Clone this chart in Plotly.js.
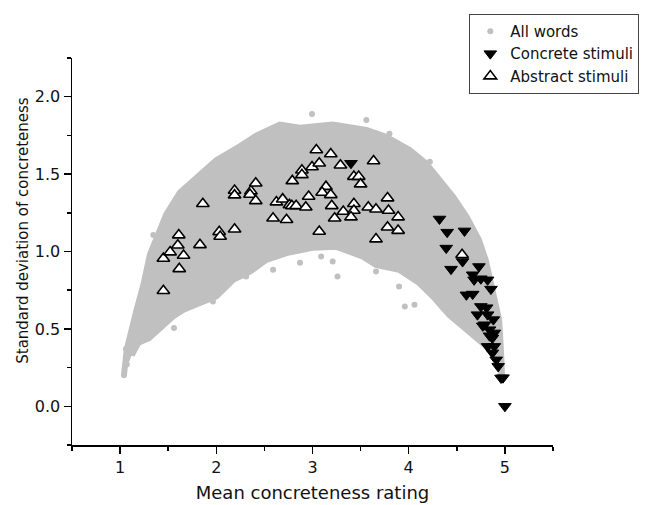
<!DOCTYPE html>
<html>
<head>
<meta charset="utf-8">
<script src="https://cdn.plot.ly/plotly-3.0.1.min.js"></script>
<style>html,body{margin:0;padding:0;background:#fff;}#chart{width:645px;height:505px;}</style>
</head>
<body>
<div id="chart"></div>
<script>
// Outline of the dense "All words" cloud (upper edge left->right, lower edge right->left)
var cloudUpperX = [1.04,1.07,1.17,1.24,1.31,1.40,1.48,1.62,1.80,2.00,2.245,2.42,2.66,2.87,3.21,3.56,3.77,4.01,4.18,4.32,4.46,4.60,4.73,4.80,4.87,4.94,4.96,4.97];
var cloudUpperY = [0.20,0.37,0.62,0.78,0.98,1.12,1.24,1.38,1.48,1.59,1.68,1.75,1.82,1.80,1.82,1.785,1.74,1.656,1.57,1.46,1.355,1.226,1.075,0.946,0.753,0.56,0.35,0.20];
var cloudLowerX = [4.91,4.73,4.56,4.42,4.25,4.11,3.90,3.66,3.52,3.25,3.00,2.73,2.52,2.35,2.175,2.00,1.83,1.66,1.55,1.41,1.30,1.19,1.12];
var cloudLowerY = [0.333,0.43,0.516,0.59,0.71,0.796,0.882,0.914,0.968,1.03,1.024,0.99,0.946,0.869,0.817,0.71,0.667,0.624,0.58,0.50,0.44,0.41,0.33];

// Isolated "All words" points outside the dense cloud
var wordsX = [1.04,1.07,1.06,1.13,1.56,1.965,1.345,2.995,3.56,3.80,4.22,3.09,3.26,3.96,4.06,2.31,2.59,2.87,3.21,3.90,3.66];
var wordsY = [0.20,0.27,0.37,0.345,0.506,0.677,1.107,1.888,1.85,1.76,1.58,0.968,0.839,0.645,0.656,0.839,0.882,0.927,0.935,0.774,0.871];

// Concrete stimuli
var concreteX = [3.40,4.32,4.40,4.58,4.39,4.56,4.44,4.73,4.665,4.68,4.75,4.82,4.855,4.60,4.665,4.75,4.81,4.715,4.82,4.88,4.79,4.84,4.89,4.87,4.82,4.89,4.87,4.91,4.93,4.96,4.98,5.00,4.77,4.84];
var concreteY = [1.57,1.21,1.125,1.133,1.022,0.935,0.886,0.903,0.85,0.817,0.824,0.817,0.757,0.72,0.725,0.645,0.637,0.592,0.592,0.56,0.527,0.495,0.474,0.441,0.387,0.387,0.345,0.30,0.258,0.183,0.185,0.0,0.52,0.456];

// Abstract stimuli
var abstractX = [1.45,1.615,1.45,1.52,1.66,1.60,1.61,1.83,2.03,2.04,2.19,1.86,2.19,2.19,2.36,2.35,2.41,2.41,2.625,2.59,2.69,2.73,2.76,2.785,2.83,2.93,2.96,2.79,2.89,2.89,2.995,3.07,3.04,3.19,3.29,3.14,3.10,3.19,3.20,3.07,3.23,3.32,3.43,3.43,3.40,3.43,3.48,3.50,3.635,3.58,3.66,3.78,3.79,3.89,3.78,3.89,3.66,4.555];
var abstractY = [0.746,0.888,0.955,0.996,0.974,1.04,1.106,1.043,1.127,1.097,1.144,1.308,1.394,1.364,1.39,1.368,1.441,1.327,1.319,1.215,1.338,1.205,1.301,1.295,1.295,1.286,1.355,1.456,1.525,1.495,1.546,1.57,1.656,1.63,1.557,1.419,1.381,1.366,1.295,1.129,1.215,1.258,1.308,1.265,1.222,1.484,1.484,1.435,1.585,1.286,1.273,1.345,1.265,1.222,1.157,1.135,1.08,0.979];

var grey = 'rgb(192,192,192)';
var polyX = cloudUpperX.concat(cloudLowerX);
var polyY = cloudUpperY.concat(cloudLowerY);

var traces = [
  {x: polyX, y: polyY, type: 'scatter', mode: 'lines', fill: 'toself', fillcolor: grey,
   line: {color: grey, width: 6}, showlegend: false, hoverinfo: 'skip'},
  {x: wordsX, y: wordsY, type: 'scatter', mode: 'markers', name: 'All words',
   marker: {color: grey, size: 6, symbol: 'circle'}},
  {x: concreteX, y: concreteY, type: 'scatter', mode: 'markers', name: 'Concrete stimuli',
   marker: {color: '#000', size: 11, symbol: 'triangle-down', line: {color: '#000', width: 1}}},
  {x: abstractX, y: abstractY, type: 'scatter', mode: 'markers', name: 'Abstract stimuli',
   marker: {color: '#fff', size: 11, symbol: 'triangle-up', line: {color: '#000', width: 1.6}}}
];

var tickFont = {family: 'DejaVu Sans, sans-serif', size: 16, color: '#111'};
var layout = {
  width: 645, height: 505,
  margin: {l: 72, r: 92, t: 58, b: 60, autoexpand: false},
  paper_bgcolor: '#fff', plot_bgcolor: '#fff',
  showlegend: true,
  legend: {x: 0.826, y: 1.114, xanchor: 'left', yanchor: 'top', bgcolor: '#fff',
           bordercolor: '#444', borderwidth: 1,
           font: {family: 'DejaVu Sans, sans-serif', size: 15, color: '#111'}},
  xaxis: {
    range: [0.5, 5.5], tickmode: 'linear', tick0: 1, dtick: 1,
    showline: true, linecolor: '#000', linewidth: 1.5, mirror: false,
    ticks: 'outside', ticklen: 7, tickwidth: 1.5, tickcolor: '#000',
    showgrid: false, zeroline: false, tickfont: tickFont,
    minor: {tick0: 0.5, dtick: 0.5, ticks: 'outside', ticklen: 4, tickwidth: 1.5, tickcolor: '#000', showgrid: false},
    title: {text: 'Mean concreteness rating', font: {family: 'DejaVu Sans, sans-serif', size: 18, color: '#111'}, standoff: 10}
  },
  yaxis: {
    range: [-0.25, 2.25], tickmode: 'linear', tick0: 0, dtick: 0.5, tickformat: '.1f',
    showline: true, linecolor: '#000', linewidth: 1.5, mirror: false,
    ticks: 'outside', ticklen: 7, tickwidth: 1.5, tickcolor: '#000',
    showgrid: false, zeroline: false, tickfont: tickFont,
    minor: {tick0: 0, dtick: 0.25, ticks: 'outside', ticklen: 4, tickwidth: 1.5, tickcolor: '#000', showgrid: false}
  },
  annotations: [{
    text: 'Standard deviation of concreteness', textangle: -90, showarrow: false,
    xref: 'paper', yref: 'paper', x: -0.102, y: 0.556, xanchor: 'center', yanchor: 'middle',
    font: {family: 'DejaVu Sans, sans-serif', size: 15, color: '#111'}
  }]
};

Plotly.newPlot('chart', traces, layout, {staticPlot: true, displayModeBar: false});
</script>
</body>
</html>
